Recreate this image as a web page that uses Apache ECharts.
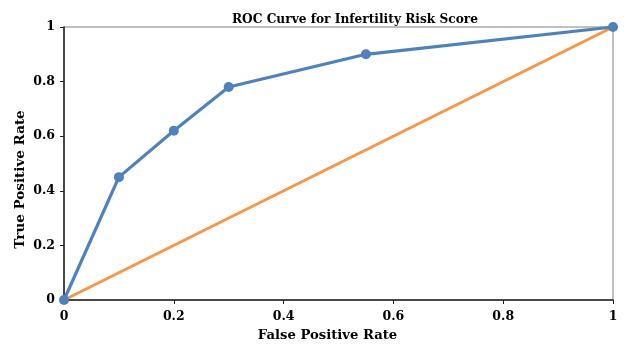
<!DOCTYPE html>
<html>
<head>
<meta charset="utf-8">
<script src="https://cdn.jsdelivr.net/npm/echarts@6/dist/echarts.min.js"></script>
<style>html,body{margin:0;padding:0;background:#fff}#c{width:626px;height:349px}</style>
</head>
<body>
<div id="c"></div>
<script>
const rocFPR = [0, 0.1, 0.2, 0.3, 0.55, 1];
const rocTPR = [0, 0.45, 0.62, 0.78, 0.9, 1];
const refFPR = [0, 1];
const refTPR = [0, 1];
const chartTitle = 'ROC Curve for Infertility Risk Score';
const xName = 'False Positive Rate';
const yName = 'True Positive Rate';

const font = '"DejaVu Serif", "Liberation Serif", serif';
const chart = echarts.init(document.getElementById('c'));
chart.setOption({
  animation: false,
  title: {
    text: chartTitle, left: 350, top: 9, textAlign: 'center',
    textStyle: {fontFamily: font, fontWeight: 'bold', fontSize: 12.2, color: '#000'}
  },
  grid: {left: 64, right: 13, top: 27, bottom: 49, show: true, borderColor: '#808080', borderWidth: 1},
  xAxis: {
    type: 'value', min: 0, max: 1, interval: 0.2,
    name: xName, nameLocation: 'middle', nameGap: 29,
    nameTextStyle: {fontFamily: font, fontWeight: 'bold', fontSize: 13.2, color: '#000', padding: [0, 22, 0, 0]},
    axisLine: {lineStyle: {color: '#222', width: 1.5}},
    axisTick: {show: true, length: 4, lineStyle: {color: '#222'}},
    axisLabel: {fontFamily: font, fontWeight: 'bold', fontSize: 12.5, color: '#000', margin: 10,
      formatter: v => String(Math.round(v*10)/10)},
    splitLine: {show: false}
  },
  yAxis: {
    type: 'value', min: 0, max: 1, interval: 0.2,
    name: yName, nameLocation: 'middle', nameGap: 37, nameRotate: 90, nameMoveOverlap: false,
    nameTextStyle: {fontFamily: font, fontWeight: 'bold', fontSize: 13.5, color: '#000', padding: [0, 32, 0, 0]},
    axisLine: {show: true, lineStyle: {color: '#222', width: 1.5}},
    axisTick: {show: true, length: 4, lineStyle: {color: '#222'}},
    axisLabel: {fontFamily: font, fontWeight: 'bold', fontSize: 12.5, color: '#000', margin: 9,
      formatter: v => String(Math.round(v*10)/10)},
    splitLine: {show: false}
  },
  series: [
    {
      type: 'line', data: refFPR.map((x, i) => [x, refTPR[i]]),
      showSymbol: false, symbol: 'none',
      lineStyle: {color: '#F79646', width: 3}, z: 2
    },
    {
      type: 'line', data: rocFPR.map((x, i) => [x, rocTPR[i]]),
      symbol: 'circle', symbolSize: 10,
      itemStyle: {color: '#4F81BD'},
      lineStyle: {color: '#4F81BD', width: 3.2}, z: 3
    }
  ]
});
</script>
</body>
</html>
